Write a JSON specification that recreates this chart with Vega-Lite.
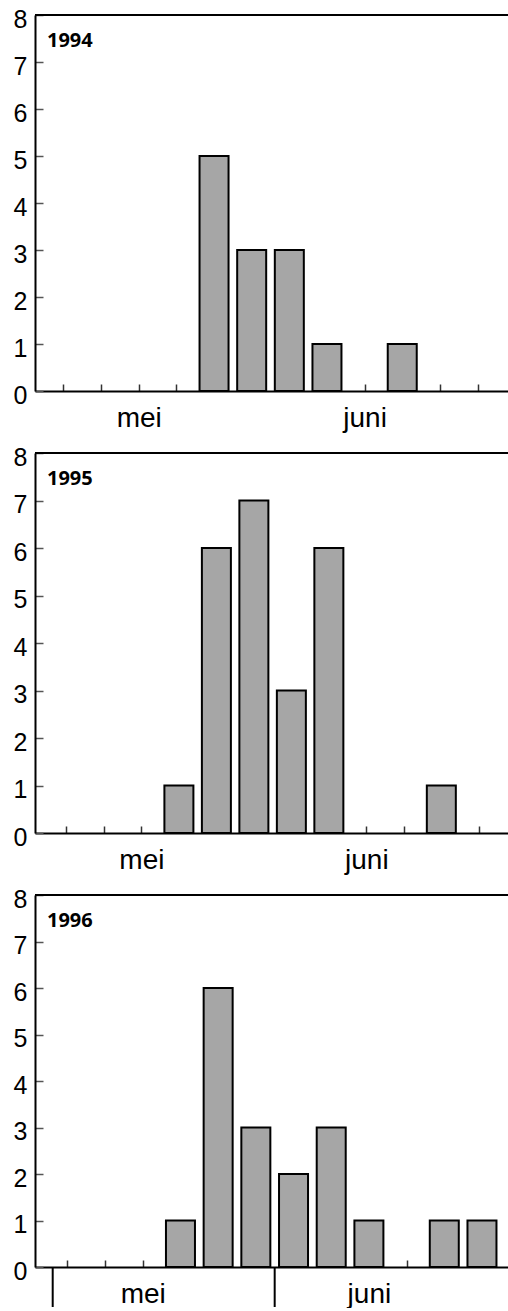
{
  "$schema": "https://vega.github.io/schema/vega-lite/v6.json",
  "background": "white",
  "padding": {"left": 13, "top": 7, "right": 0, "bottom": 0},
  "bounds": "flush",
  "spacing": 62,
  "config": {
    "view": {"stroke": null},
    "font": "Liberation Sans",
    "axis": {
      "domainColor": "black",
      "domainWidth": 2,
      "grid": false,
      "labelColor": "black",
      "labelFont": "Liberation Sans",
      "labelFlush": false,
      "labelOverlap": false,
      "tickColor": "#555555",
      "tickWidth": 1.5
    },
    "title": {
      "font": "Open Sans",
      "fontWeight": "bold",
      "fontSize": 20,
      "anchor": "start",
      "frame": "group",
      "orient": "top",
      "offset": -44,
      "baseline": "alphabetic",
      "dx": 12,
      "color": "black"
    }
  },
  "datasets": {
    "counts": [
      {"year": 1994, "slot": 5, "n": 5},
      {"year": 1994, "slot": 6, "n": 3},
      {"year": 1994, "slot": 7, "n": 3},
      {"year": 1994, "slot": 8, "n": 1},
      {"year": 1994, "slot": 10, "n": 1},
      {"year": 1995, "slot": 4, "n": 1},
      {"year": 1995, "slot": 5, "n": 6},
      {"year": 1995, "slot": 6, "n": 7},
      {"year": 1995, "slot": 7, "n": 3},
      {"year": 1995, "slot": 8, "n": 6},
      {"year": 1995, "slot": 11, "n": 1},
      {"year": 1996, "slot": 4, "n": 1},
      {"year": 1996, "slot": 5, "n": 6},
      {"year": 1996, "slot": 6, "n": 3},
      {"year": 1996, "slot": 7, "n": 2},
      {"year": 1996, "slot": 8, "n": 3},
      {"year": 1996, "slot": 9, "n": 1},
      {"year": 1996, "slot": 11, "n": 1},
      {"year": 1996, "slot": 12, "n": 1}
    ],
    "frame": [{"top": 8}],
    "separators": [{"sep": 0.61}, {"sep": 6.5}]
  },
  "vconcat": [
    {
      "title": "1994",
      "width": 473,
      "height": 376,
      "layer": [
        {
          "data": {"name": "frame"},
          "mark": {"type": "rule", "color": "black", "strokeWidth": 2},
          "encoding": {
            "y": {"field": "top", "type": "quantitative", "title": null, "scale": {"domain": [0, 8], "nice": false, "zero": false}}
          }
        },
        {
          "data": {"name": "counts"},
          "transform": [{"filter": "datum.year == 1994"}],
          "mark": {"type": "bar", "width": 29, "fill": "#a6a6a6", "stroke": "black", "strokeWidth": 2},
          "encoding": {
            "x": {
              "field": "slot", "type": "quantitative", "title": null,
              "scale": {"domain": [0.376, 12.677], "nice": false, "zero": false},
              "axis": {
                "values": [1,2,3,4,5,6,7,8,9,10,11,12],
                "labelExpr": "datum.value == 3 ? 'mei' : (datum.value == 9 ? 'juni' : '')",
                "tickSize": -7, "tickColor": "#333333", "labelPadding": 20, "labelFontSize": 28, "labelBaseline": "top"
              }
            },
            "y": {
              "field": "n", "type": "quantitative", "title": null,
              "scale": {"domain": [0, 8], "nice": false, "zero": false},
              "axis": {
                "values": [0,0.5,1,1.5,2,2.5,3,3.5,4,4.5,5,5.5,6,6.5,7,7.5,8],
                "labelExpr": "datum.value % 1 === 0 ? datum.label : ''",
                "tickSize": {"condition": {"test": "datum.value % 1 === 0", "value": -8}, "value": -4},
                "labelPadding": 16, "labelFontSize": 25, "labelOffset": 4
              }
            }
          }
        }
      ]
    },
    {
      "title": "1995",
      "width": 473,
      "height": 380,
      "layer": [
        {
          "data": {"name": "frame"},
          "mark": {"type": "rule", "color": "black", "strokeWidth": 2},
          "encoding": {
            "y": {"field": "top", "type": "quantitative", "title": null, "scale": {"domain": [0, 8], "nice": false, "zero": false}}
          }
        },
        {
          "data": {"name": "counts"},
          "transform": [{"filter": "datum.year == 1995"}],
          "mark": {"type": "bar", "width": 29, "fill": "#a6a6a6", "stroke": "black", "strokeWidth": 2},
          "encoding": {
            "x": {
              "field": "slot", "type": "quantitative", "title": null,
              "scale": {"domain": [0.295, 12.645], "nice": false, "zero": false},
              "axis": {
                "values": [1,2,3,4,5,6,7,8,9,10,11,12],
                "labelExpr": "datum.value == 3 ? 'mei' : (datum.value == 9 ? 'juni' : '')",
                "tickSize": -7, "tickColor": "#333333", "labelPadding": 20, "labelFontSize": 28, "labelBaseline": "top"
              }
            },
            "y": {
              "field": "n", "type": "quantitative", "title": null,
              "scale": {"domain": [0, 8], "nice": false, "zero": false},
              "axis": {
                "values": [0,0.5,1,1.5,2,2.5,3,3.5,4,4.5,5,5.5,6,6.5,7,7.5,8],
                "labelExpr": "datum.value % 1 === 0 ? datum.label : ''",
                "tickSize": {"condition": {"test": "datum.value % 1 === 0", "value": -8}, "value": -4},
                "labelPadding": 16, "labelFontSize": 25, "labelOffset": 4
              }
            }
          }
        }
      ]
    },
    {
      "title": "1996",
      "width": 473,
      "height": 372,
      "layer": [
        {
          "data": {"name": "frame"},
          "mark": {"type": "rule", "color": "black", "strokeWidth": 2},
          "encoding": {
            "y": {"field": "top", "type": "quantitative", "title": null, "scale": {"domain": [0, 8], "nice": false, "zero": false}}
          }
        },
        {
          "data": {"name": "separators"},
          "mark": {"type": "rule", "color": "black", "strokeWidth": 2},
          "encoding": {
            "x": {"field": "sep", "type": "quantitative", "title": null, "scale": {"domain": [0.273, 12.558], "nice": false, "zero": false}},
            "y": {"datum": 0, "type": "quantitative", "title": null},
            "y2": {"datum": -0.86}
          }
        },
        {
          "data": {"name": "counts"},
          "transform": [{"filter": "datum.year == 1996"}],
          "mark": {"type": "bar", "width": 29, "fill": "#a6a6a6", "stroke": "black", "strokeWidth": 2},
          "encoding": {
            "x": {
              "field": "slot", "type": "quantitative", "title": null,
              "scale": {"domain": [0.273, 12.558], "nice": false, "zero": false},
              "axis": {
                "values": [1,2,3,4,5,6,7,8,9,10,11,12],
                "labelExpr": "datum.value == 3 ? 'mei' : (datum.value == 9 ? 'juni' : '')",
                "tickSize": -7, "tickColor": "#333333", "labelPadding": 20, "labelFontSize": 28, "labelBaseline": "top"
              }
            },
            "y": {
              "field": "n", "type": "quantitative", "title": null,
              "scale": {"domain": [0, 8], "nice": false, "zero": false},
              "axis": {
                "values": [0,0.5,1,1.5,2,2.5,3,3.5,4,4.5,5,5.5,6,6.5,7,7.5,8],
                "labelExpr": "datum.value % 1 === 0 ? datum.label : ''",
                "tickSize": {"condition": {"test": "datum.value % 1 === 0", "value": -8}, "value": -4},
                "labelPadding": 16, "labelFontSize": 25, "labelOffset": 4
              }
            }
          }
        }
      ]
    }
  ]
}
